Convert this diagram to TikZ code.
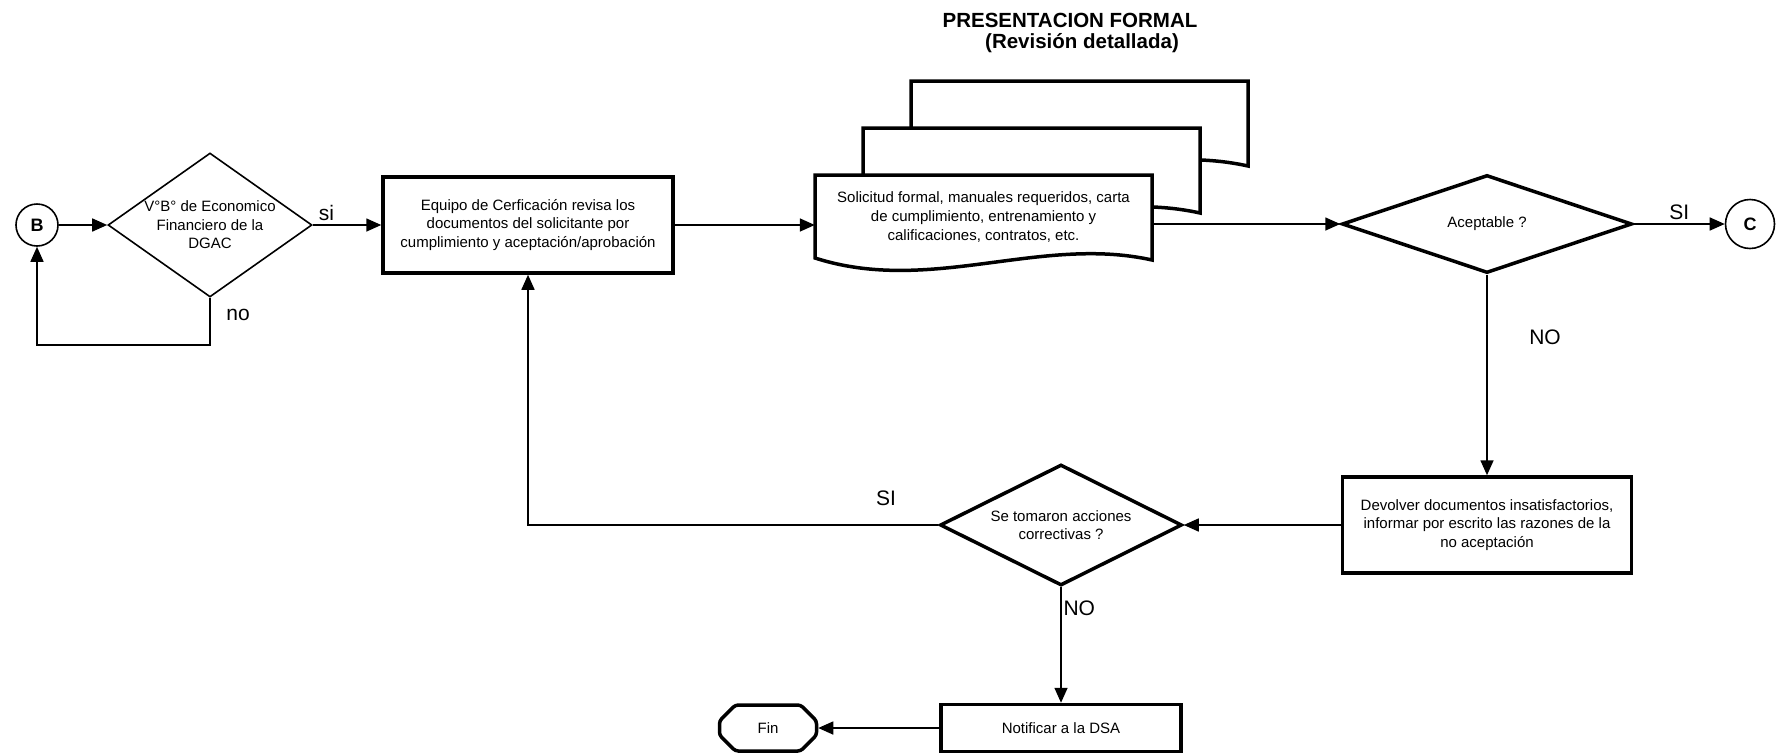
\documentclass[tikz,border=0pt]{standalone}
\usepackage{fontspec}
\setmainfont{Liberation Sans}
\usetikzlibrary{shapes, arrows.meta}

\tikzset{
  proc/.style={rectangle, draw, line width=3.5pt, align=center, inner sep=0pt, font=\fontsize{15}{18.5}\selectfont},
  decide/.style={diamond, draw, align=center, inner sep=0pt, font=\fontsize{15}{18.5}\selectfont},
  conn/.style={circle, draw, line width=1.6pt, inner sep=0pt, font=\fontsize{18}{20}\selectfont\bfseries},
  line/.style={line width=1.6pt},
  arr/.style={line, -{Triangle[length=15pt, width=13pt]}},
  lbl/.style={font=\fontsize{21}{24}\selectfont},
  sheet/.style={draw, line width=3.5pt, fill=white},
}

\begin{document}
\begin{tikzpicture}[x=1pt, y=-1pt]
	\useasboundingbox (0,0) rectangle (1776,753);
	% titulo
	\node[font=\fontsize{20.5}{23}\selectfont\bfseries] (tit1) at (1070,20) {PRESENTACION FORMAL};
	\node[font=\fontsize{20.5}{23}\selectfont\bfseries] (tit2) at (1082,43) {(Revisión detallada)};
	% primera fila
	\node[conn, minimum size=42pt] (B) at (37,225) {B};
	\node[decide, line width=1.6pt, shape aspect=1.42, minimum width=204pt, minimum height=144pt] (vb) at (210,225) {V°B° de Economico\\ Financiero de la\\ DGAC};
	\node[proc, minimum width=290pt, minimum height=96pt] (equipo) at (528,225) {Equipo de Cerficación revisa los\\ documentos del solicitante por\\ cumplimiento y aceptación/aprobación};
	% documentos
	\foreach \s in {2,1,0}
		\draw[sheet, shift={(48*\s,-47*\s)}] (815,175) -- (1152,175) -- (1152,260) .. controls (1040,235) and (930,295) .. (815,258) -- cycle;
	\node[align=center, minimum width=337pt, minimum height=85pt, inner sep=0pt, font=\fontsize{15}{19}\selectfont] (doc) at (983.5,217.5) {Solicitud formal, manuales requeridos, carta\\ de cumplimiento, entrenamiento y\\ calificaciones, contratos, etc.};
	\node[decide, line width=3.5pt, minimum width=290pt, minimum height=98pt] (acep) at (1487,224) {Aceptable ?};
	\node[conn, minimum size=49pt] (C) at (1750,224) {C};
	% segunda fila
	\node[proc, minimum width=289pt, minimum height=96pt] (devolver) at (1487,525) {Devolver documentos insatisfactorios,\\ informar por escrito las razones de la\\ no aceptación};
	\node[decide, line width=3.5pt, shape aspect=2, minimum width=242pt, minimum height=121pt] (correct) at (1061,525) {Se tomaron acciones\\ correctivas ?};
	\node[proc, minimum width=240pt, minimum height=47pt] (notif) at (1061,728) {Notificar a la DSA};
	\node[chamfered rectangle, chamfered rectangle xsep=14pt, chamfered rectangle ysep=13pt, draw, line width=3.5pt, rounded corners=3pt, minimum width=97pt, minimum height=46pt, inner sep=0pt, font=\fontsize{15}{18}\selectfont] (fin) at (768,728) {Fin};
	% conectores
	\draw[arr] (B) -- (vb.west);
	\draw[arr] (vb.east) -- (equipo.west) node[lbl, above, pos=0.2] {si};
	\draw[arr] (vb.south) -- ++(0,47) -| (B.south);
	\node[lbl] (no1) at (238,315) {no};
	\draw[arr] (equipo.east) -- (equipo.east -| doc.west);
	\draw[arr] (acep.west -| doc.east) -- (acep.west);
	\draw[arr] (acep.east) -- (C.west) node[lbl, above, midway] {SI};
	\draw[arr] (acep.south) -- (devolver.north);
	\node[lbl] (no2) at (1545,337) {NO};
	\draw[arr] (devolver.west) -- (correct.east);
	\draw[arr] (correct.west) -| (equipo.south);
	\node[lbl] (si2) at (886,498) {SI};
	\draw[arr] (correct.south) -- (notif.north);
	\node[lbl, anchor=west] (no3) at (1060,608) {NO};
	\draw[arr] (notif.west) -- (fin.east);
\end{tikzpicture}
\end{document}
